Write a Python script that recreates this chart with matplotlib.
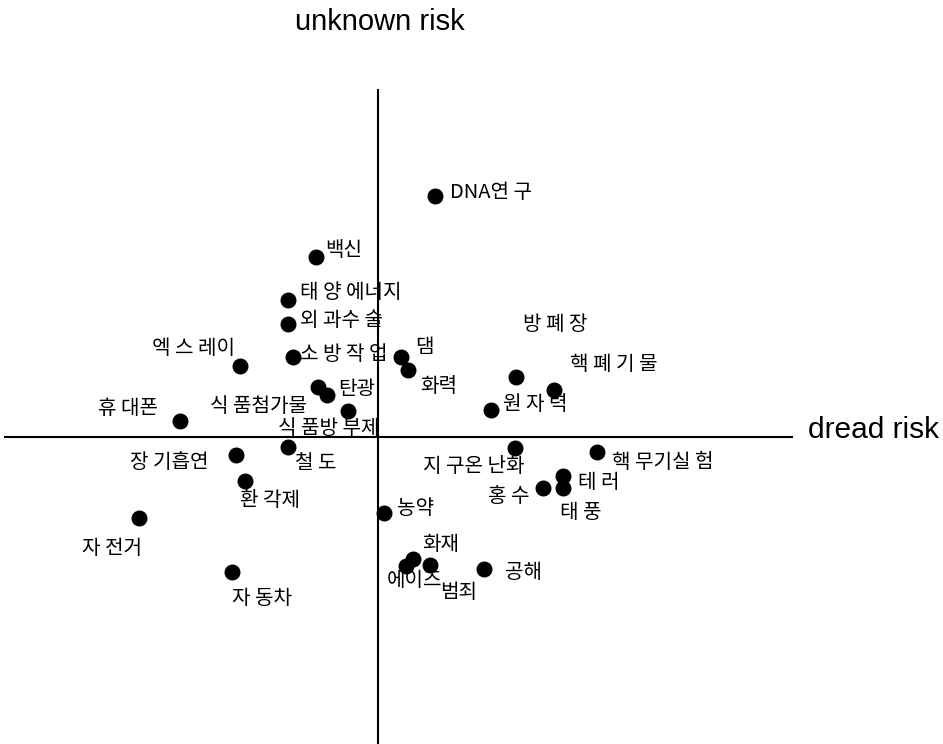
import matplotlib
matplotlib.use("Agg")
import matplotlib.pyplot as plt

plt.rcParams['font.family'] = ['Noto Sans CJK KR', 'DejaVu Sans']

# risk items: label, dread-risk score (x), unknown-risk score (y)
labels = ["DNA연 구", "백신", "태 양 에너지", "외 과수 술", "소 방 작 업", "댐", "화력",
          "엑 스 레이", "식 품첨가물", "탄광", "식 품방 부제", "휴 대폰", "철 도",
          "장 기흡연", "환 각제", "자 전거", "자 동차", "농약", "화재", "에이즈",
          "범죄", "공해", "지 구온 난화", "홍 수", "테 러", "태 풍", "핵 무기실 험",
          "원 자 력", "방 폐 장", "핵 폐 기 물"]
dread = [0.57, -0.62, -0.90, -0.90, -0.85, 0.23, 0.30,
         -1.38, -0.60, -0.51, -0.30, -1.98, -0.90,
         -1.42, -1.33, -2.39, -1.46, 0.06, 0.35, 0.28,
         0.52, 1.06, 1.37, 1.65, 1.85, 1.85, 2.19,
         1.13, 1.38, 1.76]
unknown = [2.41, 1.80, 1.37, 1.13, 0.80, 0.80, 0.67,
           0.71, 0.50, 0.42, 0.26, 0.16, -0.10,
           -0.18, -0.44, -0.81, -1.35, -0.76, -1.22, -1.29,
           -1.28, -1.32, -0.11, -0.51, -0.39, -0.51, -0.15,
           0.27, 0.60, 0.47]

# label placement (pixel offsets from each dot to the label's left-centre)
offsets = [(15, 3), (9, 7), (12, 8), (12, 4), (7, 2), (14, 10), (12, -16),
           (-88, 18), (-108, -20), (11, 5), (-70, -17), (-82, 13), (7, -17),
           (-106, -8), (-5, -19), (-57, -30), (0, -26), (13, 5), (9, 14), (-19, -14),
           (10, -27), (21, -3), (-92, -19), (-55, -9), (15, -7), (-3, -24), (15, -11),
           (12, 5), (7, 52), (16, 25)]

fig = plt.figure(figsize=(9.43, 7.44), dpi=100)
ax = fig.add_axes([0, 0, 1, 1])
ax.set_xlim(-3.78, 5.65)
ax.set_ylim(-3.07, 4.37)
ax.axis("off")

# axes cross
ax.plot([-3.73, 4.14], [0, 0], color="black", lw=1.5)
ax.plot([0, 0], [-3.07, 3.47], color="black", lw=1.5)

ax.scatter(dread, unknown, s=110, color="black", zorder=3)
for lab, x, y, off in zip(labels, dread, unknown, offsets):
    ax.annotate(lab, (x, y), xytext=off, textcoords="offset pixels",
                ha="left", va="center", fontsize=14.5)

ax.text(4.30, 0.07, "dread risk", fontsize=21.5, family="Liberation Sans",
        ha="left", va="center")
ax.text(-0.83, 4.15, "unknown risk", fontsize=21, family="Liberation Sans",
        ha="left", va="center")

fig.savefig("out.png", dpi=100)
